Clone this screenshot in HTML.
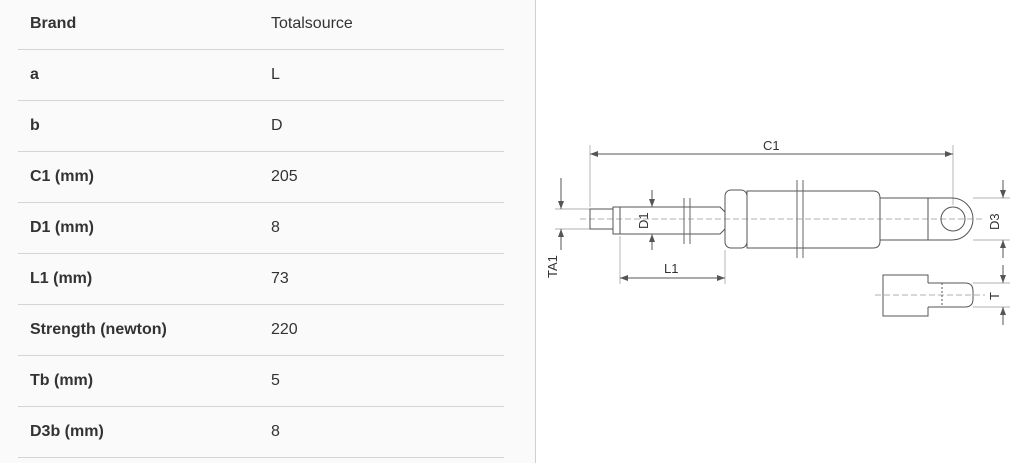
<!DOCTYPE html>
<html><head><style>
body{margin:0;width:1027px;height:463px;background:#fafafa;font-family:"Liberation Sans",sans-serif;overflow:hidden;position:relative}
.row{position:absolute;left:18px;width:486px;height:51px;border-bottom:1px solid #d4d4d4;font-size:16px;color:#333}
.row b{position:absolute;left:12px;top:17px;color:#333}
.row span{position:absolute;left:253px;top:17px}
.panel{position:absolute;left:535px;top:0;width:492px;height:463px;background:#fff;border-left:1px solid #d0d0d0}
</style></head><body>
<div class="row" style="top:-2px"><b>Brand</b><span>Totalsource</span></div>
<div class="row" style="top:49px"><b>a</b><span>L</span></div>
<div class="row" style="top:100px"><b>b</b><span>D</span></div>
<div class="row" style="top:151px"><b>C1 (mm)</b><span>205</span></div>
<div class="row" style="top:202px"><b>D1 (mm)</b><span>8</span></div>
<div class="row" style="top:253px"><b>L1 (mm)</b><span>73</span></div>
<div class="row" style="top:304px"><b>Strength (newton)</b><span>220</span></div>
<div class="row" style="top:355px"><b>Tb (mm)</b><span>5</span></div>
<div class="row" style="top:406px"><b>D3b (mm)</b><span>8</span></div>
<div class="panel"></div>
<svg style="position:absolute;left:0;top:0" width="1027" height="463" fill="none" stroke="#555" stroke-width="1" font-family="Liberation Sans,sans-serif">
<defs><marker id="a" markerWidth="8" markerHeight="6" refX="8" refY="3" orient="auto-start-reverse"><path d="M0,0L8,3L0,6z" fill="#555" stroke="none"/></marker></defs>
<g stroke="#999" stroke-width="0.7">
<line x1="590" y1="145" x2="590" y2="207"/><line x1="953" y1="145" x2="953" y2="205"/>
<line x1="555" y1="209" x2="590" y2="209"/><line x1="555" y1="229" x2="590" y2="229"/>
<line x1="645" y1="207" x2="660" y2="207"/><line x1="645" y1="234" x2="660" y2="234"/>
<line x1="620" y1="236" x2="620" y2="284"/><line x1="725" y1="250" x2="725" y2="284"/>
<line x1="973" y1="198" x2="1010" y2="198"/><line x1="973" y1="240" x2="1010" y2="240"/>
<line x1="973" y1="283" x2="1010" y2="283"/><line x1="973" y1="307" x2="1010" y2="307"/>
<line x1="580" y1="219" x2="985" y2="219" stroke-dasharray="6,3"/>
<line x1="875" y1="295" x2="985" y2="295" stroke-dasharray="6,3"/>
</g>
<line x1="590" y1="154" x2="953" y2="154" marker-start="url(#a)" marker-end="url(#a)"/>
<line x1="620" y1="278" x2="725" y2="278" marker-start="url(#a)" marker-end="url(#a)"/>
<line x1="561" y1="178" x2="561" y2="209" marker-end="url(#a)"/><line x1="561" y1="250" x2="561" y2="229" marker-end="url(#a)"/>
<line x1="652" y1="190" x2="652" y2="207" marker-end="url(#a)"/><line x1="652" y1="250" x2="652" y2="234" marker-end="url(#a)"/>
<line x1="1003" y1="180" x2="1003" y2="198" marker-end="url(#a)"/><line x1="1003" y1="258" x2="1003" y2="240" marker-end="url(#a)"/>
<line x1="1003" y1="265" x2="1003" y2="283" marker-end="url(#a)"/><line x1="1003" y1="325" x2="1003" y2="307" marker-end="url(#a)"/>
<rect x="590" y="209" width="23" height="20"/>
<path d="M613 207H620V234H613Z"/>
<path d="M620 207H720L725 212V229L720 234H620Z"/>
<rect x="725" y="190" width="22" height="58" rx="6"/>
<path d="M747 191H873Q880 191 880 198V241Q880 248 873 248H747Z"/>
<rect x="880" y="198" width="48" height="42"/>
<path d="M928 198H952A21 21 0 0 1 952 240H928Z"/>
<circle cx="953" cy="219" r="12"/>
<g stroke="#666"><line x1="684" y1="198" x2="684" y2="244"/><line x1="690" y1="198" x2="690" y2="244"/>
<line x1="797" y1="180" x2="797" y2="258"/><line x1="803" y1="180" x2="803" y2="258"/></g>
<path d="M928 283V275H883V316H928V307"/>
<path d="M928 283H965Q973 283 973 291V299Q973 307 965 307H928"/>
<line x1="942" y1="283" x2="942" y2="307" stroke-dasharray="2,2"/>
<g fill="#333" stroke="none" font-size="13">
<text x="763" y="150">C1</text>
<text x="664" y="273">L1</text>
<text transform="translate(648 229) rotate(-90)">D1</text>
<text transform="translate(999 230) rotate(-90)">D3</text>
<text transform="translate(557 278) rotate(-90)">TA1</text>
<text transform="translate(999 300) rotate(-90)">T</text>
</g>
</svg>
</body></html>
